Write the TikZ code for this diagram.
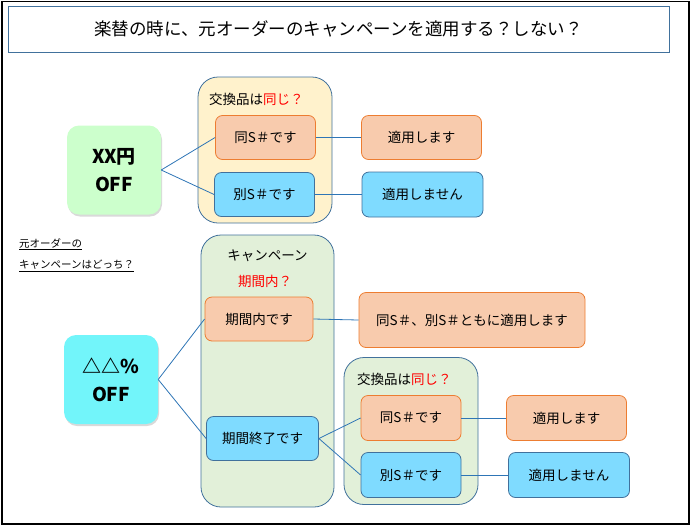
\documentclass[tikz,border=0pt]{standalone}
\usepackage{fontspec}
\setmainfont{Noto Sans CJK JP}
\usetikzlibrary{shadows}
\definecolor{orf}{HTML}{F8CBAD}
\definecolor{ord}{HTML}{ED7D31}
\definecolor{blf}{HTML}{7FDBFF}
\definecolor{bld}{HTML}{41719C}
\definecolor{yef}{HTML}{FFF2CC}
\definecolor{grf}{HTML}{E2F0D9}
\definecolor{lnc}{HTML}{2E75B6}
\definecolor{xxf}{HTML}{CCFFCC}
\definecolor{cyf}{HTML}{72F5FA}
\tikzset{
  box/.style={rectangle, rounded corners=7pt, line width=0.8pt, align=center,
    font=\fontsize{13.5}{16}\selectfont, inner sep=0pt},
  obox/.style={box, fill=orf, draw=ord},
  bbox/.style={box, fill=blf, draw=bld},
  cont/.style={rectangle, rounded corners=20pt, draw=bld, line width=0.8pt, inner sep=0pt},
  bigbox/.style={rectangle, rounded corners=12pt, align=center, inner sep=0pt,
    font=\fontsize{19}{28}\selectfont\bfseries,
    drop shadow={opacity=0.3, shadow xshift=1pt, shadow yshift=-2pt}},
  conn/.style={draw=lnc, line width=0.8pt},
  lab/.style={anchor=west, inner sep=0pt, font=\fontsize{13.5}{16}\selectfont},
}
\begin{document}
\begin{tikzpicture}[x=1pt,y=-1pt]
\useasboundingbox (0,0) rectangle (692,528);
\draw[line width=1.2pt] (2,1.2) rectangle (689,524);
\node[draw=bld, line width=1pt, minimum width=661pt, minimum height=46pt, inner sep=0pt,
  font=\fontsize{17.5}{20}\selectfont] (title) at (338.5,29) {楽替の時に、元オーダーのキャンペーンを適用する？しない？};

% top part
\node[cont, fill=yef, minimum width=134pt, minimum height=146pt] (c1) at (265,150) {};
\node[lab] (l1) at (209,99.5) {交換品は\textcolor{red}{同じ？}};
\node[bigbox, fill=xxf, minimum width=94pt, minimum height=89pt] (xx) at (114,170) {XX円\\OFF};
\node[obox, minimum width=100pt, minimum height=44pt] (s1) at (265.5,137.5) {同S＃です};
\node[bbox, minimum width=100pt, minimum height=44pt] (b1) at (264.5,194.5) {別S＃です};
\node[obox, minimum width=120pt, minimum height=44pt] (a1) at (421.5,137.5) {適用します};
\node[bbox, minimum width=121pt, minimum height=45pt] (n1) at (422.5,194.5) {適用しません};
\draw[conn] (xx.east) -- (s1.west);
\draw[conn] (xx.east) -- (b1.west);
\draw[conn] (s1.east) -- (a1.west);
\draw[conn] (b1.east) -- (n1.west);

% note
\node[anchor=west, inner sep=0pt, font=\fontsize{10.5}{12}\selectfont] (q1) at (19,244) {\underline{元オーダーの}};
\node[anchor=west, inner sep=0pt, font=\fontsize{10.5}{12}\selectfont] (q2) at (19,266) {\underline{キャンペーンはどっち？}};

% bottom part
\node[cont, fill=grf, minimum width=133pt, minimum height=272pt] (c2) at (267.5,371) {};
\node[inner sep=0pt, font=\fontsize{13.5}{16}\selectfont] (l2) at (267.5,256) {キャンペーン};
\node[inner sep=0pt, font=\fontsize{13.5}{16}\selectfont, text=red] (l3) at (265,281.5) {期間内？};
\node[bigbox, fill=cyf, minimum width=94pt, minimum height=89pt] (dd) at (111,379.5) {△△\%\\OFF};
\node[obox, minimum width=108pt, minimum height=44pt] (p1) at (259,319) {期間内です};
\node[bbox, minimum width=112pt, minimum height=44pt] (p2) at (262.5,438.5) {期間終了です};
\node[obox, minimum width=226pt, minimum height=55pt] (all) at (472,320) {同S＃、別S＃ともに適用します};
\node[cont, fill=grf, minimum width=134pt, minimum height=147pt] (c3) at (411,431) {};
\node[lab] (l4) at (357,379.5) {交換品は\textcolor{red}{同じ？}};
\node[obox, minimum width=100pt, minimum height=45pt] (s2) at (411,418) {同S＃です};
\node[bbox, minimum width=100pt, minimum height=45pt] (b2) at (411,475) {別S＃です};
\node[obox, minimum width=120pt, minimum height=45pt] (a2) at (566.5,418) {適用します};
\node[bbox, minimum width=121pt, minimum height=45pt] (n2) at (569,475) {適用しません};
\draw[conn] (dd.east) -- (p1.west);
\draw[conn] (dd.east) -- (p2.west);
\draw[conn] (p1.east) -- (all.west);
\draw[conn] (p2.east) -- (s2.west);
\draw[conn] (p2.east) -- (b2.west);
\draw[conn] (s2.east) -- (a2.west);
\draw[conn] (b2.east) -- (n2.west);
\end{tikzpicture}
\end{document}
